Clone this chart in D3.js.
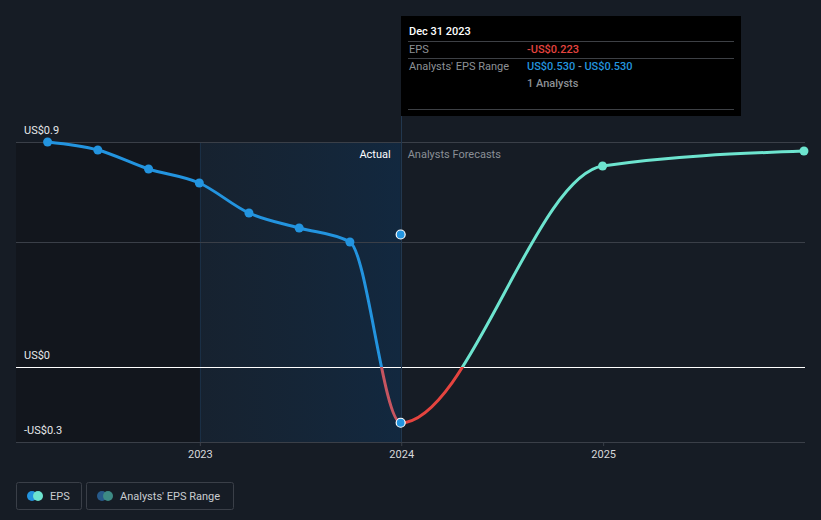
<!DOCTYPE html>
<html>
<head>
<meta charset="utf-8">
<script src="https://cdn.jsdelivr.net/npm/d3@7"></script>
<style>
  html, body { margin: 0; padding: 0; background: #161c25; }
  svg { display: block; font-family: Roboto, "Noto Sans", sans-serif; }
</style>
</head>
<body>
<svg id="chart" width="821" height="520"></svg>
<script>
// ---- data ----
const actualDates = ["2022-03-31", "2022-06-30", "2022-09-30", "2022-12-31", "2023-03-31", "2023-06-30", "2023-09-30", "2023-12-31"];
const actualEps = [0.90, 0.868, 0.792, 0.736, 0.616, 0.556, 0.50, -0.223];
const forecastDates = ["2023-12-31", "2024-12-31", "2025-12-31"];
const forecastEps = [-0.223, 0.804, 0.864];
const rangeDate = "2023-12-31";
const rangeLow = [0.530];
const rangeHigh = [0.530];
const yTickValues = [0.9, 0, -0.3];
const yTickLabels = ["US$0.9", "US$0", "-US$0.3"];
const gridValues = [0.9, 0.5, -0.3];
const xTickYears = ["2023", "2024", "2025"];
const tooltipTitle = "Dec 31 2023";

const parse = d3.timeParse("%Y-%m-%d");
const svg = d3.select("#chart");
const W = 821, H = 520;
const left = 16, right = 805;

const x = d3.scaleTime()
  .domain([new Date(2022, 0, 1), new Date(2026, 0, 1)])
  .range([-1.5, 804.5]);
const y = d3.scaleLinear().domain([-0.3, 0.9]).range([442, 142]);
const crisp = v => Math.round(v) + 0.5;

const colBlue = "#2394df", colTeal = "#6de4cf", colRedA = "#c65560", colRed = "#e5443f";

svg.append("rect").attr("width", W).attr("height", H).attr("fill", "#161c25");

const defs = svg.append("defs");
const grad = defs.append("linearGradient").attr("id", "pastGrad").attr("x1", 0).attr("x2", 1).attr("y1", 0).attr("y2", 0);
grad.append("stop").attr("offset", "0%").attr("stop-color", "#17283a").attr("stop-opacity", 0.5);
grad.append("stop").attr("offset", "100%").attr("stop-color", "#12283f").attr("stop-opacity", 1);

const xNow = x(parse(rangeDate));
const x2023 = x(new Date(2023, 0, 1));

// darker past area
svg.append("rect").attr("x", left).attr("y", y(0.9)).attr("width", x2023 - left).attr("height", y(-0.3) - y(0.9))
  .attr("fill", "#12151b").attr("opacity", 0.8);
// shaded last-year region
svg.append("rect").attr("x", x2023).attr("y", y(0.9)).attr("width", xNow - x2023).attr("height", y(-0.3) - y(0.9))
  .attr("fill", "url(#pastGrad)");
svg.append("line").attr("x1", crisp(x2023)).attr("x2", crisp(x2023)).attr("y1", y(0.9)).attr("y2", y(-0.3))
  .attr("stroke", "#1a2f45").attr("stroke-width", 1);

// grid
svg.selectAll(".grid").data(gridValues).enter().append("line")
  .attr("x1", left).attr("x2", right).attr("y1", d => crisp(y(d))).attr("y2", d => crisp(y(d)))
  .attr("stroke", "#3a3f48").attr("stroke-width", 1);
svg.append("line").attr("x1", left).attr("x2", right).attr("y1", crisp(y(0))).attr("y2", crisp(y(0)))
  .attr("stroke", "#ffffff").attr("stroke-width", 1);

// vertical "now" line
svg.append("line").attr("x1", crisp(xNow)).attr("x2", crisp(xNow)).attr("y1", 116).attr("y2", y(-0.3))
  .attr("stroke", "#22374e").attr("stroke-width", 1);

// x axis ticks
const xAxis = d3.axisBottom(x)
  .tickValues(xTickYears.map(s => new Date(+s, 0, 1)))
  .tickFormat(d3.timeFormat("%Y"))
  .tickSize(4).tickPadding(4);
const gx = svg.append("g").attr("transform", `translate(0,${y(-0.3)})`).call(xAxis);
gx.select(".domain").remove();
gx.selectAll(".tick line").attr("stroke", "#3a3f48");
gx.selectAll(".tick text").attr("fill", "#d6d8db").attr("font-size", 11).attr("font-family", "Roboto, sans-serif");

// y labels
svg.selectAll(".ylab").data(yTickValues).enter().append("text")
  .attr("x", 24).attr("y", d => y(d) - 8)
  .attr("fill", "#e6e8ea").attr("font-size", 11)
  .text((d, i) => yTickLabels[i]);

// labels Actual / Analysts Forecasts
svg.append("text").attr("x", xNow - 10).attr("y", 158).attr("text-anchor", "end")
  .attr("fill", "#ffffff").attr("font-size", 11).text("Actual");
svg.append("text").attr("x", xNow + 7).attr("y", 158)
  .attr("fill", "#8a8f96").attr("font-size", 11).text("Analysts Forecasts");

// line
const allPts = actualDates.map((d, i) => ({ d: parse(d), v: actualEps[i] }))
  .concat(forecastDates.slice(1).map((d, i) => ({ d: parse(d), v: forecastEps[i + 1] })));
const lineGen = d3.line().x(p => x(p.d)).y(p => y(p.v)).curve(d3.curveMonotoneX);
const pathD = lineGen(allPts);

const clips = [
  { id: "cA", x0: 0, x1: xNow, y0: 0, y1: y(0), col: colBlue },
  { id: "cB", x0: 0, x1: xNow, y0: y(0), y1: H, col: colRedA },
  { id: "cC", x0: xNow, x1: W, y0: 0, y1: y(0), col: colTeal },
  { id: "cD", x0: xNow, x1: W, y0: y(0), y1: H, col: colRed }
];
clips.forEach(c => {
  defs.append("clipPath").attr("id", c.id).append("rect")
    .attr("x", c.x0).attr("y", c.y0).attr("width", c.x1 - c.x0).attr("height", c.y1 - c.y0);
  svg.append("path").attr("d", pathD).attr("clip-path", `url(#${c.id})`)
    .attr("fill", "none").attr("stroke", c.col).attr("stroke-width", 3).attr("stroke-linecap", "round");
});

// actual points
svg.selectAll(".apt").data(actualDates.slice(0, -1)).enter().append("circle")
  .attr("cx", d => x(parse(d))).attr("cy", (d, i) => y(actualEps[i])).attr("r", 4.5).attr("fill", colBlue);
// last actual point
svg.append("circle").attr("cx", xNow).attr("cy", y(actualEps[actualEps.length - 1])).attr("r", 4.5)
  .attr("fill", colBlue).attr("stroke", "#ffffff").attr("stroke-width", 1.2);
// analyst range point
svg.append("circle").attr("cx", xNow).attr("cy", y(rangeLow[0])).attr("r", 4.5)
  .attr("fill", colBlue).attr("stroke", "#ffffff").attr("stroke-width", 1.2);
// forecast points
svg.selectAll(".fpt").data(forecastDates.slice(1)).enter().append("circle")
  .attr("cx", d => x(parse(d))).attr("cy", (d, i) => y(forecastEps[i + 1])).attr("r", 4.5).attr("fill", colTeal);

// tooltip
const tt = svg.append("g");
tt.append("rect").attr("x", 401).attr("y", 16).attr("width", 340).attr("height", 100).attr("fill", "#000000");
tt.append("text").attr("x", 409).attr("y", 35).attr("fill", "#ffffff").attr("font-size", 11).attr("font-weight", 500).text(tooltipTitle);
[41.5, 58.5, 109.5].forEach(yy => tt.append("line").attr("x1", 408).attr("x2", 734).attr("y1", yy).attr("y2", yy)
  .attr("stroke", "#3d4045").attr("stroke-width", 1));
tt.append("text").attr("x", 409).attr("y", 53).attr("fill", "#8d9196").attr("font-size", 11).text("EPS");
tt.append("text").attr("x", 527).attr("y", 53).attr("fill", "#e5443f").attr("font-size", 11).attr("font-weight", 500)
  .text("-US$" + Math.abs(actualEps[actualEps.length - 1]).toFixed(3));
tt.append("text").attr("x", 409).attr("y", 70).attr("fill", "#8d9196").attr("font-size", 11).text("Analysts' EPS Range");
const rt = tt.append("text").attr("x", 527).attr("y", 70).attr("font-size", 11).attr("font-weight", 500);
rt.append("tspan").attr("fill", "#2394df").text("US$" + rangeLow[0].toFixed(3));
rt.append("tspan").attr("fill", "#8d9196").text(" - ");
rt.append("tspan").attr("fill", "#2394df").text("US$" + rangeHigh[0].toFixed(3));
tt.append("text").attr("x", 527).attr("y", 87).attr("fill", "#8d9196").attr("font-size", 11).attr("font-weight", 500).text("1 Analysts");

// legend
const lg = svg.append("g");
lg.append("rect").attr("x", 16.5).attr("y", 482.5).attr("width", 65).attr("height", 27).attr("rx", 2)
  .attr("fill", "none").attr("stroke", "#3a3f48");
lg.append("circle").attr("cx", 32).attr("cy", 496).attr("r", 5).attr("fill", colBlue);
lg.append("circle").attr("cx", 38).attr("cy", 496).attr("r", 5).attr("fill", colTeal);
lg.append("text").attr("x", 50).attr("y", 500).attr("fill", "#c9ccd0").attr("font-size", 11).text("EPS");
lg.append("rect").attr("x", 86.5).attr("y", 482.5).attr("width", 147).attr("height", 27).attr("rx", 2)
  .attr("fill", "none").attr("stroke", "#3a3f48");
lg.append("circle").attr("cx", 102).attr("cy", 496).attr("r", 5).attr("fill", "#275a8a");
lg.append("circle").attr("cx", 108).attr("cy", 496).attr("r", 5).attr("fill", "#3d8a84");
lg.append("text").attr("x", 120).attr("y", 500).attr("fill", "#c9ccd0").attr("font-size", 11).text("Analysts' EPS Range");
</script>
</body>
</html>
